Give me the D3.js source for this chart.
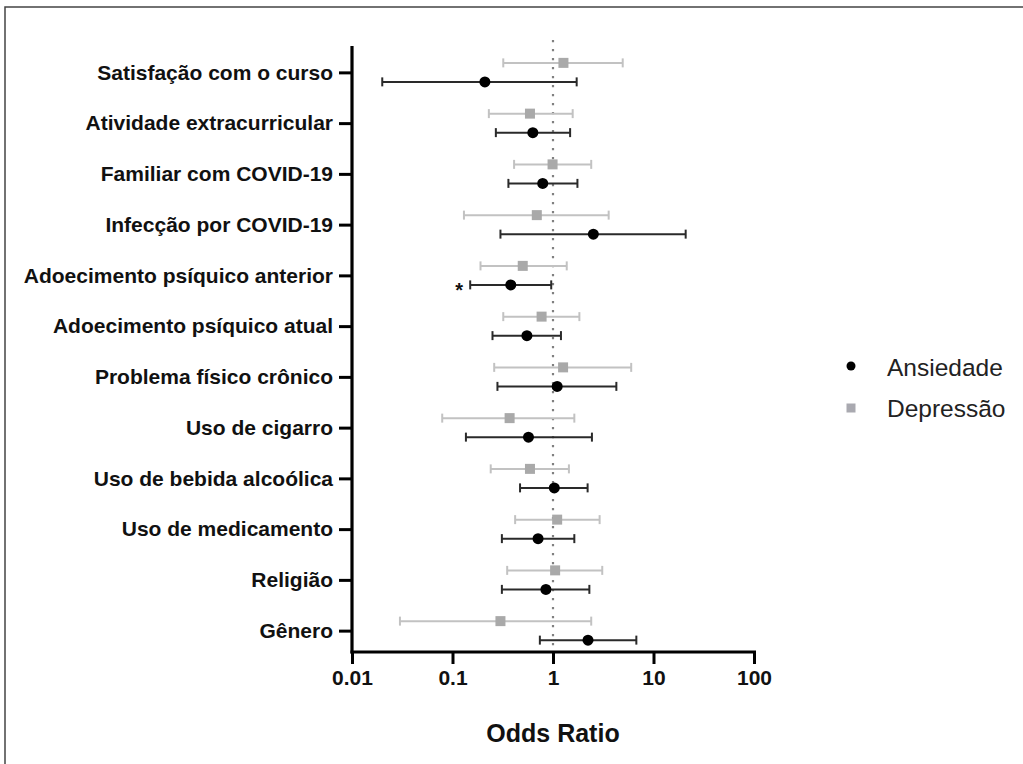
<!DOCTYPE html>
<html>
<head>
<meta charset="utf-8">
<script src="https://cdn.jsdelivr.net/npm/d3@7"></script>
<style>
  body { margin: 0; background: #fff; }
  svg { display: block; font-family: "Liberation Sans", Arial, sans-serif; }
</style>
</head>
<body>
<div id="chart"></div>
<script>
// data
var categories = ["Satisfação com o curso", "Atividade extracurricular", "Familiar com COVID-19",
  "Infecção por COVID-19", "Adoecimento psíquico anterior", "Adoecimento psíquico atual",
  "Problema físico crônico", "Uso de cigarro", "Uso de bebida alcoólica",
  "Uso de medicamento", "Religião", "Gênero"]

var ansOR = [0.21, 0.63, 0.79, 2.52, 0.38, 0.55, 1.10, 0.57, 1.03, 0.71, 0.85, 2.23]
var ansLow = [0.020, 0.27, 0.36, 0.30, 0.15, 0.25, 0.28, 0.136, 0.47, 0.31, 0.31, 0.74]
var ansHigh = [1.72, 1.48, 1.75, 20.9, 0.96, 1.20, 4.27, 2.44, 2.21, 1.63, 2.30, 6.75]

var depOR = [1.27, 0.59, 0.99, 0.69, 0.50, 0.77, 1.26, 0.37, 0.59, 1.10, 1.05, 0.30]
var depLow = [0.32, 0.23, 0.41, 0.13, 0.19, 0.32, 0.26, 0.079, 0.24, 0.42, 0.35, 0.030]
var depHigh = [4.94, 1.57, 2.40, 3.58, 1.37, 1.83, 6.0, 1.63, 1.44, 2.91, 3.09, 2.40]

var xTicks = [0.01, 0.1, 1, 10, 100]
var seriesNames = ["Ansiedade", "Depressão"]

var W = 1023, H = 764
var svg = d3.select('#chart').append('svg')
  .attr("width", W)
  .attr("height", H)

// frame
svg.append("path")
  .attr("d", "M5," + H + "V7H" + W)
  .attr("fill", "none")
  .attr("stroke", "#444")
  .attr("stroke-width", 1.5)

// note: "top" is taken by window.top, so plot edges get their own names
var plotL = 352, plotR = 754, plotT = 46, plotB = 652

var x = d3.scaleLog().domain([0.01, 100]).range([plotL, plotR])
var y = d3.scalePoint().domain(categories).range([47, 656]).padding(0.5)

// reference line at OR = 1
svg.append("line")
  .attr("x1", x(1)).attr("x2", x(1))
  .attr("y1", 40).attr("y2", plotB)
  .attr("stroke", "#808080")
  .attr("stroke-width", 2.2)
  .attr("stroke-dasharray", "2.2,6.8")

// y axis
var yAxis = svg.append("g")
  .attr("transform", "translate(" + plotL + ",0)")
  .call(d3.axisLeft(y).tickSize(13).tickPadding(6))
yAxis.select(".domain").remove()
yAxis.selectAll(".tick line").attr("stroke", "#000").attr("stroke-width", 3)
yAxis.selectAll(".tick text")
  .attr("font-size", 21)
  .attr("font-weight", "bold")
  .attr("fill", "#111")
  .attr("font-family", "Liberation Sans, Arial, sans-serif")
svg.append("line")
  .attr("x1", plotL).attr("x2", plotL)
  .attr("y1", plotT).attr("y2", plotB + 1.5)
  .attr("stroke", "#000").attr("stroke-width", 3.2)

// x axis
var xAxis = svg.append("g")
  .attr("transform", "translate(0," + plotB + ")")
  .call(d3.axisBottom(x).tickValues(xTicks).tickFormat(d3.format("~g")).tickSize(12).tickSizeOuter(0).tickPadding(6))
xAxis.select(".domain").attr("stroke", "#000").attr("stroke-width", 3.2)
  .attr("d", "M" + (plotL - 1.5) + ",0H" + (plotR + 2))
xAxis.selectAll(".tick line").attr("stroke", "#000").attr("stroke-width", 3)
xAxis.selectAll(".tick text")
  .attr("font-size", 21)
  .attr("font-weight", "bold")
  .attr("fill", "#111")
  .attr("font-family", "Liberation Sans, Arial, sans-serif")

svg.append("text")
  .attr("x", (plotL + plotR) / 2)
  .attr("y", 742)
  .attr("text-anchor", "middle")
  .attr("font-size", 25)
  .attr("font-weight", "bold")
  .attr("fill", "#111")
  .text("Odds Ratio")

// error bars
function drawBars(or, lo, hi, dy, color, cls) {
  var g = svg.append("g").attr("class", cls)
  var rows = categories.map(function (c, i) {
    return { cat: c, or: or[i], lo: lo[i], hi: hi[i] }
  })
  var row = g.selectAll("g").data(rows).enter().append("g")
    .attr("transform", function (d) { return "translate(0," + (y(d.cat) + dy) + ")" })
  row.append("line")
    .attr("x1", function (d) { return x(d.lo) })
    .attr("x2", function (d) { return x(d.hi) })
    .attr("stroke", color).attr("stroke-width", 2)
  row.append("line")
    .attr("x1", function (d) { return x(d.lo) })
    .attr("x2", function (d) { return x(d.lo) })
    .attr("y1", -4.5).attr("y2", 4.5)
    .attr("stroke", color).attr("stroke-width", 2)
  row.append("line")
    .attr("x1", function (d) { return x(d.hi) })
    .attr("x2", function (d) { return x(d.hi) })
    .attr("y1", -4.5).attr("y2", 4.5)
    .attr("stroke", color).attr("stroke-width", 2)
  return row
}

var depRows = drawBars(depOR, depLow, depHigh, -9.5, "#c2c2c2", "dep")
depRows.append("rect")
  .attr("x", function (d) { return x(d.or) - 5 })
  .attr("y", -5).attr("width", 10).attr("height", 10)
  .attr("fill", "#a9a9a9")

var ansRows = drawBars(ansOR, ansLow, ansHigh, 9.5, "#2a2a2a", "ans")
ansRows.append("circle")
  .attr("cx", function (d) { return x(d.or) })
  .attr("r", 5.5)
  .attr("fill", "#000")

// significance mark
svg.append("text")
  .attr("x", x(ansLow[4]) - 11)
  .attr("y", y(categories[4]) + 9.5 + 12)
  .attr("text-anchor", "middle")
  .attr("font-size", 20)
  .attr("font-weight", "bold")
  .attr("fill", "#111")
  .text("*")

// legend
var legend = svg.append("g").attr("transform", "translate(851,366)")
legend.append("circle").attr("r", 4.5).attr("fill", "#000")
legend.append("rect").attr("x", -4.5).attr("y", 37.5).attr("width", 9).attr("height", 9).attr("fill", "#a9a9b0")
legend.selectAll("text").data(seriesNames).enter().append("text")
  .attr("x", 36)
  .attr("y", function (d, i) { return 9.5 + i * 41.5 })
  .attr("font-size", 24.5)
  .attr("fill", "#222")
  .text(function (d) { return d })
</script>
</body>
</html>
